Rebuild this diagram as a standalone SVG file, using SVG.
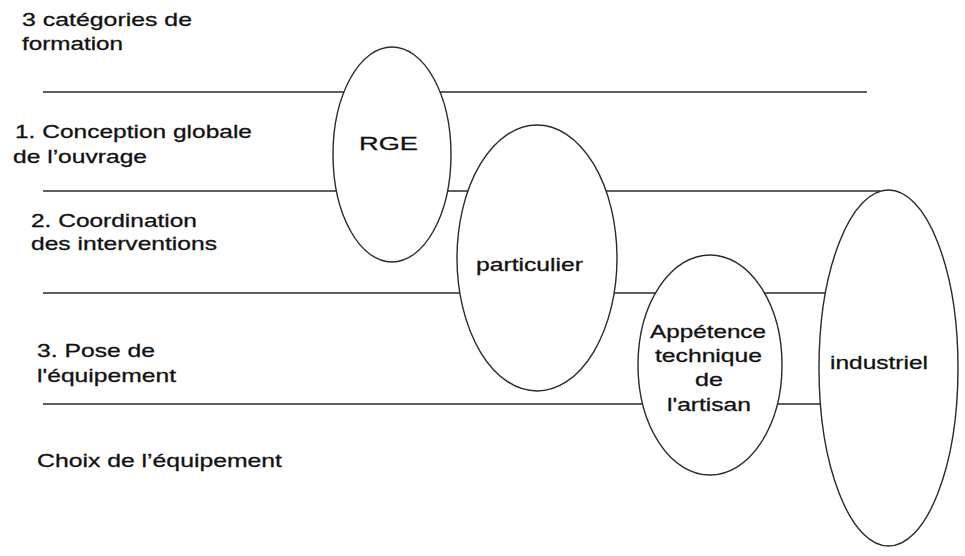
<svg xmlns="http://www.w3.org/2000/svg" width="965" height="556" viewBox="0 0 965 556">
<style>
.ln{stroke:#2a2a2a;stroke-width:1.4;fill:none}
.el{stroke:#2a2a2a;stroke-width:1.4;fill:#ffffff}
.t{font-family:"Liberation Sans",Arial,sans-serif;font-size:19px;fill:#111;stroke:#111;stroke-width:0.3}
</style>
<rect width="965" height="556" fill="#ffffff"/>
<g id="lines">
<line class="ln" x1="43" y1="92" x2="867" y2="92"/>
<line class="ln" x1="43" y1="191" x2="880" y2="191"/>
<line class="ln" x1="43" y1="293" x2="860" y2="293"/>
<line class="ln" x1="43" y1="404" x2="850" y2="404"/>
</g>
<g id="labels">
<text class="t" x="22" y="26" textLength="170" lengthAdjust="spacingAndGlyphs">3 catégories de</text>
<text class="t" x="22" y="50" textLength="101" lengthAdjust="spacingAndGlyphs">formation</text>
<text class="t" x="15" y="138" textLength="237" lengthAdjust="spacingAndGlyphs">1. Conception globale</text>
<text class="t" x="13" y="163" textLength="134" lengthAdjust="spacingAndGlyphs">de l’ouvrage</text>
<text class="t" x="31" y="227" textLength="166" lengthAdjust="spacingAndGlyphs">2. Coordination</text>
<text class="t" x="31" y="250" textLength="186" lengthAdjust="spacingAndGlyphs">des interventions</text>
<text class="t" x="37" y="357" textLength="118" lengthAdjust="spacingAndGlyphs">3. Pose de</text>
<text class="t" x="37" y="382" textLength="139" lengthAdjust="spacingAndGlyphs">l'équipement</text>
<text class="t" x="37" y="467" textLength="245" lengthAdjust="spacingAndGlyphs">Choix de l’équipement</text>
</g>
<g id="rge">
<ellipse class="el" cx="392" cy="154.5" rx="59" ry="107.5"/>
<text class="t" x="359" y="150" textLength="59" lengthAdjust="spacingAndGlyphs">RGE</text>
</g>
<g id="particulier">
<ellipse class="el" cx="537" cy="258" rx="80" ry="133"/>
<text class="t" x="476" y="271" textLength="107" lengthAdjust="spacingAndGlyphs">particulier</text>
</g>
<g id="appetence">
<ellipse class="el" cx="710" cy="365" rx="72" ry="110"/>
<text class="t" x="650" y="338" textLength="116" lengthAdjust="spacingAndGlyphs">Appétence</text>
<text class="t" x="655" y="362" textLength="107" lengthAdjust="spacingAndGlyphs">technique</text>
<text class="t" x="695" y="386" textLength="28" lengthAdjust="spacingAndGlyphs">de</text>
<text class="t" x="667" y="411" textLength="84" lengthAdjust="spacingAndGlyphs">l'artisan</text>
</g>
<g id="industriel">
<ellipse class="el" cx="888.5" cy="368" rx="69.5" ry="178"/>
<text class="t" x="830" y="369" textLength="98" lengthAdjust="spacingAndGlyphs">industriel</text>
</g>
</svg>
